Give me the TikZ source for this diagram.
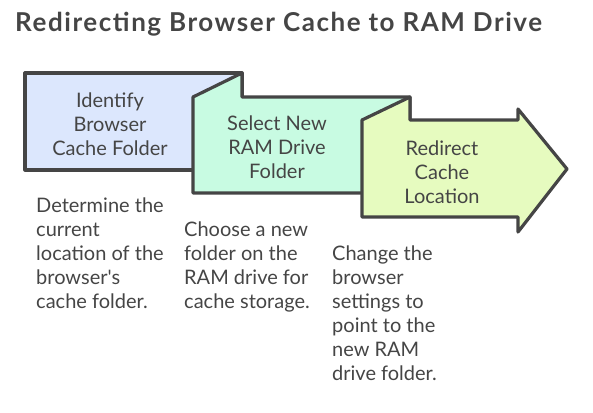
\documentclass[tikz,border=0pt]{standalone}
\usepackage{fontspec}
\setmainfont{Lato}
\definecolor{ink}{HTML}{454545}
\definecolor{cfind}{HTML}{DCE7FD}
\definecolor{cpick}{HTML}{C8FBE2}
\definecolor{cmove}{HTML}{E6FBBF}
\tikzset{
  every picture/.style={x=1pt, y=-1pt},
  panel/.style={draw=ink, line width=3.2pt, line join=round},
  steptext/.style={text=ink, align=center, inner sep=0pt,
    font=\fontsize{20}{24}\selectfont},
  desctext/.style={text=ink, align=left, anchor=north west, inner sep=0pt,
    font=\fontsize{20}{24}\selectfont},
}
\begin{document}
\begin{tikzpicture}
  \useasboundingbox (0,0) rectangle (593,412);
  \node[text=ink, anchor=base west, inner sep=0pt,
    font=\bfseries\fontsize{26}{30}\selectfont\addfontfeatures{LetterSpace=6}]
    (title) at (15,31) {Redirecting Browser Cache to RAM Drive};
  % the three folded panels, back to front
  \draw[panel, fill=cfind] (25,73) rectangle (242,170);
  \draw[panel, fill=cpick] (193,193) -- (193,97) -- (242,73) -- (242,97)
    -- (410,97) -- (410,193) -- cycle;
  \draw[panel, fill=cmove] (362,217) -- (362,120) -- (410,97) -- (410,120)
    -- (518,120) -- (518,109) -- (567,169) -- (518,232) -- (518,217) -- cycle;
  \node[steptext] (find) at (110,124) {Identify\\Browser\\Cache Folder};
  \node[steptext] (pick) at (277,147) {Select New\\RAM Drive\\Folder};
  \node[steptext] (move) at (442,172) {Redirect\\Cache\\Location};
  % descriptions
  \node[desctext] (finddesc) at (36,198)
    {Determine the\\current\\location of the\\browser\textquotesingle s\\cache folder.};
  \node[desctext] (pickdesc) at (184,222)
    {Choose a new\\folder on the\\RAM drive for\\cache storage.};
  \node[desctext] (movedesc) at (332,246)
    {Change the\\browser\\settings to\\point to the\\new RAM\\drive folder.};
\end{tikzpicture}
\end{document}
